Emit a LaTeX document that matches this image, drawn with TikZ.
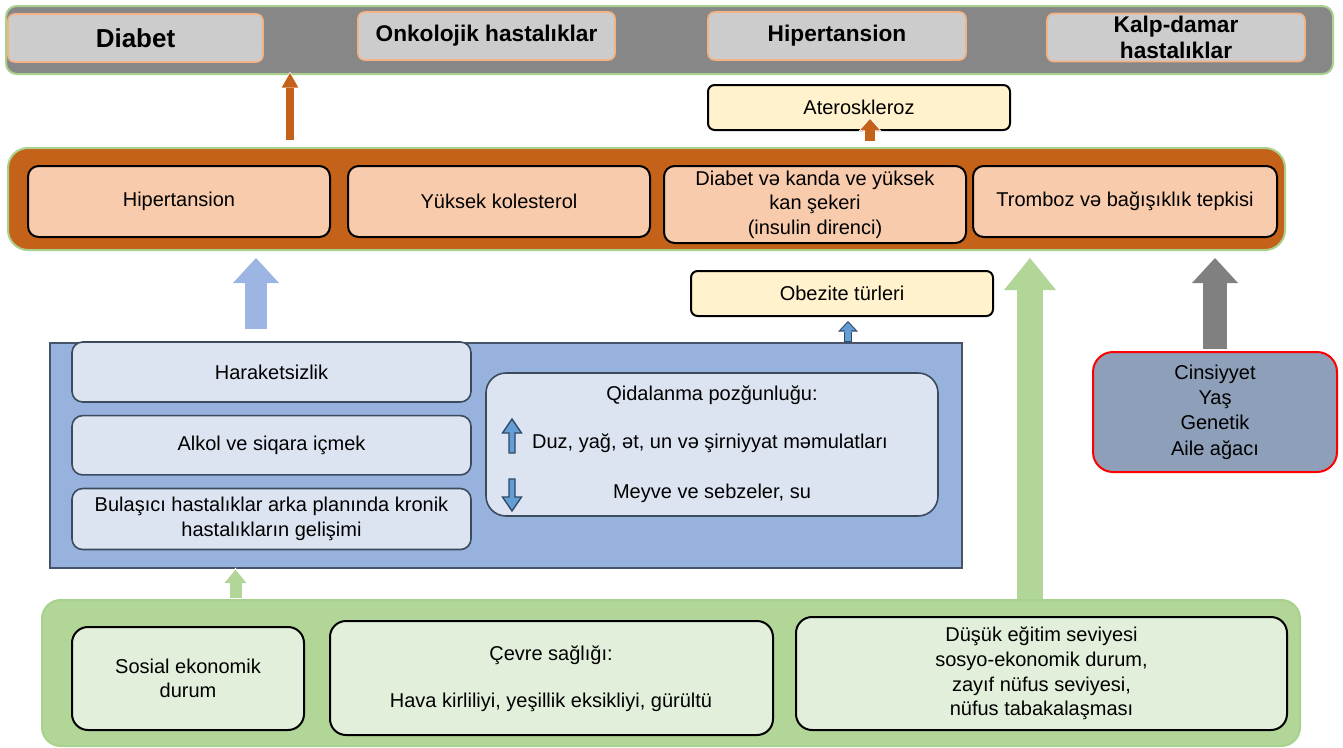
\documentclass[tikz,border=0pt]{standalone}
\usepackage{fontspec}
\setmainfont{Liberation Sans}
\usetikzlibrary{arrows.meta,positioning}
\definecolor{grayband}{HTML}{878787}
\definecolor{bandedge}{HTML}{A9D18E}
\definecolor{topfill}{HTML}{CCCCCC}
\definecolor{topedge}{HTML}{F4B183}
\definecolor{rust}{RGB}{197,98,25}
\definecolor{peach}{HTML}{F8CBAD}
\definecolor{cream}{HTML}{FFF2CC}
\definecolor{steel}{RGB}{152,178,222}
\definecolor{steeledge}{HTML}{44546A}
\definecolor{mist}{HTML}{DDE4F1}
\definecolor{misty}{HTML}{3B4A5C}
\definecolor{skyarrow}{RGB}{157,181,226}
\definecolor{leaf}{RGB}{178,213,152}
\definecolor{leafpale}{HTML}{E2EFDA}
\definecolor{slate}{RGB}{142,160,185}
\definecolor{icefill}{RGB}{100,156,214}
\definecolor{iceedge}{RGB}{46,72,102}

\begin{document}
\begin{tikzpicture}[
  x=0.75pt, y=-0.75pt, node distance=9pt and 12pt,
  band/.style={draw=bandedge, line width=1.5pt, rounded corners=8pt, inner sep=0pt},
  dis/.style={draw=topedge, fill=topfill, line width=1.2pt, rounded corners=5pt,
              align=center, inner sep=0pt, minimum height=36pt,
              font=\fontsize{17}{19.5}\selectfont\bfseries},
  risk/.style={draw, fill=peach, line width=1.5pt, rounded corners=8pt, align=center,
               inner sep=0pt, minimum width=226.5pt, minimum height=53.25pt,
               font=\fontsize{15}{18.5}\selectfont},
  note/.style={draw, fill=cream, line width=1.5pt, rounded corners=5pt, align=center,
               inner sep=0pt, minimum width=226.5pt, minimum height=33.75pt,
               font=\fontsize{15}{18.5}\selectfont},
  habit/.style={draw=misty, fill=mist, line width=1.2pt, rounded corners=8pt, align=center,
                inner sep=0pt, minimum width=299.25pt, minimum height=44.5pt,
                font=\fontsize{15}{18.5}\selectfont},
  env/.style={draw, fill=leafpale, line width=1.5pt, rounded corners=12pt, align=center,
              inner sep=0pt, font=\fontsize{15}{18.5}\selectfont},
  txt/.style={font=\fontsize{15}{18.5}\selectfont},
  updown/.style={draw=iceedge, fill=icefill, line width=1pt, line join=miter},
  fat/.style={line width=#1, shorten <=0pt},
  big/.style 2 args={-{Triangle[width=#1,length=#2,line width=0pt]}}]

\useasboundingbox (0,0) rectangle (1343,747);
\fill[white] (0,0) rectangle (1343,747);

% outcome diseases
\node[band, fill=grayband, minimum width=995.25pt, minimum height=51pt] (diseases) at (669.5,40) {};
\node[dis, minimum width=191.25pt, font=\fontsize{19.5}{22}\selectfont\bfseries] (dia) at (135.5,38) {Diabet};
\node[dis, minimum width=192.75pt] (onk) at (486.5,36) {Onkolojik hastalıklar};
\node[dis, minimum width=193.5pt]  (hip) at (837,36) {Hipertansion};
\node[dis, minimum width=193.5pt]  (kd)  at (1176,37.5) {Kalp-damar\\hastalıklar};

\node[note] (ater) at (859,107.5) {Ateroskleroz};

% intermediate risk factors
\node[band, fill=rust, rounded corners=15pt, minimum width=957.75pt, minimum height=76.5pt] (inter) at (646.5,199) {};
\node[risk] (rhip) at (179,201.5) {Hipertansion};
\node[risk, right=12pt of rhip] (rkol) {Yüksek kolesterol};
\node[risk, minimum height=57.75pt] (rdia) at (815,204.5) {Diabet və kanda ve yüksek\\kan şekeri\\(insulin direnci)};
\node[risk, minimum width=228pt] (rtro) at (1125,201.5) {Tromboz və bağışıklık tepkisi};

\node[note] (obez) at (842,293.5) {Obezite türleri};

% behaviour
\node[draw=steeledge, fill=steel, line width=1.5pt, inner sep=0pt,
      minimum width=684pt, minimum height=168.75pt] (behav) at (506,455.5) {};
\node[habit, minimum height=45pt] (har) at (271.5,372) {Haraketsizlik};
\node[habit, below=of har] (alk) {Alkol ve siqara içmek};
\node[habit, below=of alk, minimum height=45.75pt] (bul) {Bulaşıcı hastalıklar arka planında kronik\\hastalıkların gelişimi};
\node[habit, rounded corners=15pt, minimum width=339pt, minimum height=107.25pt] (qid) at (712,444.5) {};
\node[txt] (qt) at (712,395) {Qidalanma pozğunluğu:};
\node[txt] (qup) at (710,443) {Duz, yağ, ət, un və şirniyyat məmulatları};
\node[txt] (qdn) at (712,493) {Meyve ve sebzeler, su};
\draw[updown] (509,453) -- (509,433) -- (502.5,433) -- (512,419) -- (521.5,433) -- (515,433) -- (515,453) -- cycle;
\draw[updown] (509,479) -- (509,497) -- (502.5,497) -- (512,511) -- (521.5,497) -- (515,497) -- (515,479) -- cycle;

% fixed factors
\node[draw=red, fill=slate, line width=1.5pt, rounded corners=15pt, align=center, inner sep=0pt,
      minimum width=183pt, minimum height=90pt, font=\fontsize{15}{19}\selectfont]
      (fix) at (1215,412) {Cinsiyyet\\Yaş\\Genetik\\Aile ağacı};

% social and environmental background
\node[band, fill=leaf, rounded corners=14pt, minimum width=943.5pt, minimum height=109.5pt] (social) at (671,673) {};
\node[env, minimum width=174pt, minimum height=77.25pt] (sos) at (188,678.5) {Sosial ekonomik\\durum};
\node[env, minimum width=332.25pt, minimum height=85.5pt] (cev) at (551.5,678) {};
\node[txt] (ct) at (551,655) {Çevre sağlığı:};
\node[txt] (cb) at (551,702) {Hava kirliliyi, yeşillik eksikliyi, gürültü};
\node[env, minimum width=368.25pt, minimum height=84.75pt] (dus) at (1041.5,673.5)
  {Düşük eğitim seviyesi\\sosyo-ekonomik durum,\\zayıf nüfus seviyesi,\\nüfus tabakalaşması};

% connectors
\coordinate (xa) at (290,0);
\coordinate (xb) at (870,0);
\coordinate (xc) at (256,0);
\coordinate (xd) at (1030,0);
\coordinate (xe) at (235.5,0);
\coordinate (xf) at (848,0);
\draw[white, fat=8pt, big={15pt}{13pt}, shorten <=4.5pt, shorten >=-2.5pt] (inter.north -| xa) -- (diseases.south -| xa);
\draw[rust, fat=6pt, big={12.5pt}{11pt}, shorten <=5.25pt, shorten >=-1.5pt] (inter.north -| xa) -- (diseases.south -| xa);
\draw[white, fat=9.5pt, big={17pt}{10pt}, shorten <=4.5pt, shorten >=-10pt] (inter.north -| xb) -- (ater.south -| xb);
\draw[rust, fat=7.5pt, big={15pt}{8.5pt}, shorten <=4.5pt, shorten >=-9pt] (inter.north -| xb) -- (ater.south -| xb);
\draw[skyarrow, fat=16.5pt, big={34.5pt}{18.75pt}, shorten <=9.75pt, shorten >=5.25pt] (behav.north -| xc) -- (inter.south -| xc);
\draw[leaf, fat=19.5pt, big={39pt}{24pt}, shorten >=5.25pt] (social.north -| xd) -- (inter.south -| xd);
\draw[gray, fat=18pt, big={34.5pt}{18.75pt}, shorten <=1.5pt, shorten >=5.25pt] (fix.north) -- (inter.south -| fix);
\draw[white, fat=11.5pt, big={19.5pt}{12pt}, shorten >=-1pt] (social.north -| xe) -- (behav.south -| xe);
\draw[leaf, fat=9pt, big={16.5pt}{10pt}, shorten <=1pt, shorten >=0.5pt] (social.north -| xe) -- (behav.south -| xe);
\draw[iceedge, fat=6.5pt, big={15pt}{8pt}, shorten >=3pt] (behav.north -| xf) -- (obez.south -| xf);
\draw[icefill, fat=4.5pt, big={11pt}{5.8pt}, shorten <=0.75pt, shorten >=4.2pt] (behav.north -| xf) -- (obez.south -| xf);
\end{tikzpicture}
\end{document}
